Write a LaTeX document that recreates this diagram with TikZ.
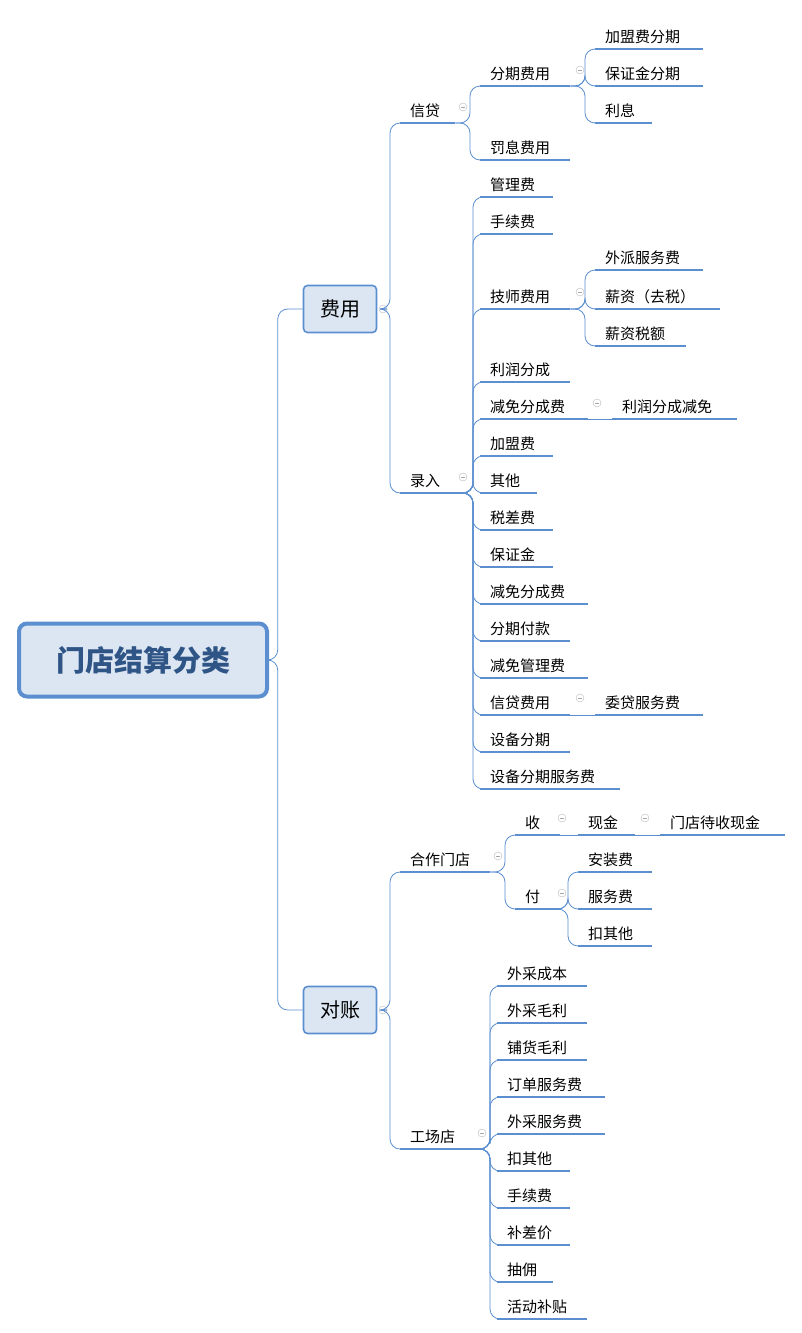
\documentclass[tikz,border=0pt]{standalone}
\usepackage{fontspec}
\setmainfont{Noto Sans CJK SC}
\usetikzlibrary{positioning}

\definecolor{lineblue}{HTML}{5B8FD0}
\definecolor{boxfill}{HTML}{DCE6F2}
\definecolor{rootblue}{HTML}{2F5587}

\tikzset{
  leaf/.style={anchor=south west, inner xsep=10pt, inner ysep=5pt,
    text width=#1pt, align=left, font=\fontsize{15}{17}\selectfont,
    append after command={(\tikzlastnode.south west) edge[uline] (\tikzlastnode.south east)}},
  uline/.style={draw=lineblue, line width=2.2pt},
  conn/.style={draw=lineblue, line width=0.8pt, rounded corners=10pt},
  topic/.style={draw=lineblue, line width=1.6pt, fill=boxfill, rounded corners=4pt,
    minimum width=73pt, minimum height=47pt, font=\fontsize{20}{22}\selectfont},
  fold/.style={circle, draw=gray!55, minimum size=8pt, inner sep=0pt,
    path picture={\draw[gray!70] ([xshift=-2pt]path picture bounding box.center) -- ([xshift=2pt]path picture bounding box.center);}}
}

\begin{document}
\begin{tikzpicture}[x=1pt, y=-1pt]
  \useasboundingbox (0,0) rectangle (802,1333);

  % root and main topics
  \node[draw=lineblue, line width=4pt, fill=boxfill, rounded corners=8pt,
    minimum width=248pt, minimum height=73pt, text=rootblue,
    font=\fontsize{29}{31}\selectfont\bfseries] (root) at (143,660) {门店结算分类};
  \node[topic] (fy) at (340,309) {费用};
  \node[topic] (dz) at (340,1010) {对账};
  \foreach \c in {fy,dz} \draw[conn] (root.east) -| ([xshift=-25pt]\c.west) -- (\c.west);
  \node[fold] (ffy) at (383,309) {};
  \node[fold] (fdz) at (383,1010) {};

  % 费用
  \node[leaf=35] (xd) at (400,123) {信贷};
  \node[leaf=35] (lr) at (400,493) {录入};
  \foreach \c in {xd,lr} \draw[conn] (ffy.east) -| ([xshift=-10pt]\c.south west) -- (\c.south west);
  \node[fold] (fxd) at (463,107) {};
  \node[fold] (flr) at (463,477) {};

  \node[leaf=70] (fq) at (480,86) {分期费用};
  \node[leaf=70] (fx) at (480,160) {罚息费用};
  \foreach \c in {fq,fx} \draw[conn] (xd.south east) -| ([xshift=-10pt]\c.south west) -- (\c.south west);
  \node[fold] (ffq) at (580,70) {};

  \node[leaf=88] (jmfq) at (595,49) {加盟费分期};
  \node[leaf=88] (bzfq) at (595,86) {保证金分期};
  \node[leaf=37] (lx) at (595,123) {利息};
  \foreach \c in {jmfq,bzfq,lx} \draw[conn] (fq.south east) -| ([xshift=-10pt]\c.south west) -- (\c.south west);

  \node[leaf=53] (glf) at (480,197) {管理费};
  \node[leaf=53] (sxf) at (480,234) {手续费};
  \node[leaf=70] (jsfy) at (480,309) {技师费用};
  \node[leaf=70] (lrfc) at (480,382) {利润分成};
  \node[leaf=88] (jmfc) at (480,419) {减免分成费};
  \node[leaf=53] (jmf) at (480,456) {加盟费};
  \node[leaf=37] (qt) at (480,493) {其他};
  \node[leaf=53] (scf) at (480,530) {税差费};
  \node[leaf=53] (bzj) at (480,567) {保证金};
  \node[leaf=88] (jmfc2) at (480,604) {减免分成费};
  \node[leaf=70] (fqfk) at (480,641) {分期付款};
  \node[leaf=88] (jmgl) at (480,678) {减免管理费};
  \node[leaf=70] (xdfy) at (480,715) {信贷费用};
  \node[leaf=70] (sbfq) at (480,752) {设备分期};
  \node[leaf=120] (sbfw) at (480,789) {设备分期服务费};
  \foreach \c in {glf,sxf,jsfy,lrfc,jmfc,jmf,qt,scf,bzj,jmfc2,fqfk,jmgl,xdfy,sbfq,sbfw}
    \draw[conn] (lr.south east) -| ([xshift=-7pt]\c.south west) -- (\c.south west);

  \node[fold] (fjs) at (580,292) {};
  \node[leaf=88] (wp) at (595,270) {外派服务费};
  \node[leaf=105] (xz) at (595,309) {薪资（去税）};
  \node[leaf=71] (xzse) at (595,346) {薪资税额};
  \foreach \c in {wp,xz,xzse} \draw[conn] (jsfy.south east) -| ([xshift=-10pt]\c.south west) -- (\c.south west);

  \node[fold] (fjm) at (597,403) {};
  \node[leaf=105] (lrjm) at (612,419) {利润分成减免};
  \draw[conn] (jmfc.south east) -- (lrjm.south west);

  \node[fold] (fxdf) at (580,698) {};
  \node[leaf=88] (wdfw) at (595,715) {委贷服务费};
  \draw[conn] (xdfy.south east) -- (wdfw.south west);

  % 对账
  \node[leaf=70] (hz) at (400,872) {合作门店};
  \node[leaf=54] (gc) at (400,1149) {工场店};
  \foreach \c in {hz,gc} \draw[conn] (fdz.east) -| ([xshift=-10pt]\c.south west) -- (\c.south west);
  \node[fold] (fhz) at (498,856) {};
  \node[fold] (fgc) at (482,1133) {};

  \node[leaf=25] (shou) at (515,835) {收};
  \node[leaf=25] (fu) at (515,909) {付};
  \foreach \c in {shou,fu} \draw[conn] (hz.south east) -| ([xshift=-10pt]\c.south west) -- (\c.south west);
  \node[fold] (fshou) at (562,818) {};
  \node[fold] (ffu) at (562,893) {};

  \node[leaf=37] (xj) at (578,835) {现金};
  \draw[conn] (shou.south east) -- (xj.south west);
  \node[fold] (fxj) at (645,818) {};
  \node[leaf=105] (dsxj) at (660,835) {门店待收现金};
  \draw[conn] (xj.south east) -- (dsxj.south west);

  \node[leaf=54] (azf) at (578,872) {安装费};
  \node[leaf=54] (fwf) at (578,909) {服务费};
  \node[leaf=54] (kqt) at (578,946) {扣其他};
  \foreach \c in {azf,fwf,kqt} \draw[conn] (fu.south east) -| ([xshift=-10pt]\c.south west) -- (\c.south west);

  \node[leaf=70] (wccb) at (497,986) {外采成本};
  \node[leaf=70] (wcml) at (497,1023) {外采毛利};
  \node[leaf=70] (phml) at (497,1060) {铺货毛利};
  \node[leaf=88] (ddfw) at (497,1097) {订单服务费};
  \node[leaf=88] (wcfw) at (497,1134) {外采服务费};
  \node[leaf=53] (kqt2) at (497,1171) {扣其他};
  \node[leaf=53] (sxf2) at (497,1208) {手续费};
  \node[leaf=53] (bcj) at (497,1245) {补差价};
  \node[leaf=36] (cy) at (497,1282) {抽佣};
  \node[leaf=70] (hdbt) at (497,1319) {活动补贴};
  \foreach \c in {wccb,wcml,phml,ddfw,wcfw,kqt2,sxf2,bcj,cy,hdbt}
    \draw[conn] (gc.south east) -| ([xshift=-7pt]\c.south west) -- (\c.south west);
\end{tikzpicture}
\end{document}
